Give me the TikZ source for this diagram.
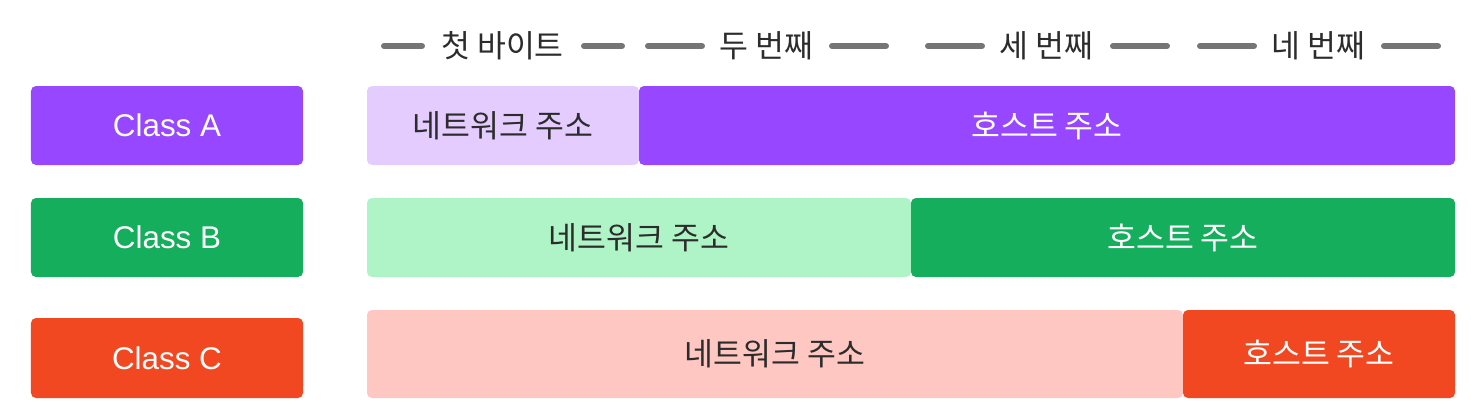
\documentclass[tikz,border=0pt]{standalone}
\usepackage{fontspec}
\setmainfont{Noto Sans CJK KR}
\newfontfamily\latinfont{Liberation Sans}
\definecolor{purpleD}{HTML}{9747FF}
\definecolor{purpleL}{HTML}{E4CCFF}
\definecolor{greenD}{HTML}{14AE5C}
\definecolor{greenL}{HTML}{AFF4C6}
\definecolor{redD}{HTML}{F24822}
\definecolor{redL}{HTML}{FFC7C2}
\definecolor{txt}{HTML}{2C2C2C}
\definecolor{rule}{HTML}{757575}
\tikzset{
  bar/.style={rectangle, rounded corners=5bp, inner sep=0pt, draw=none, font=\fontsize{31.5}{36}\selectfont},
  darkbar/.style={bar, text=white},
  lightbar/.style={bar, text=txt},
  classbox/.style={darkbar, font=\latinfont\fontsize{31.5}{36}\selectfont},
  hdr/.style={font=\fontsize{31.5}{36}\selectfont, text=txt, inner sep=0pt},
  hline/.style={draw=rule, line width=6bp, line cap=round},
}
\begin{document}
\begin{tikzpicture}[x=1bp,y=-1bp]
\useasboundingbox (0,0) rectangle (1471,412);
% class labels
\node[classbox, fill=purpleD, minimum width=272bp, minimum height=79bp] (ca) at (167,125.5) {Class A};
\node[classbox, fill=greenD, minimum width=272bp, minimum height=79bp] (cb) at (167,237.5) {Class B};
\node[classbox, fill=redD, minimum width=272bp, minimum height=80bp] (cc) at (167,358) {Class C};
% row A
\node[lightbar, fill=purpleL, minimum width=272bp, minimum height=79bp] (na) at (503,125.5) {네트워크 주소};
\node[darkbar, fill=purpleD, minimum width=816bp, minimum height=79bp] (ha) at (1047,125.5) {호스트 주소};
% row B
\node[lightbar, fill=greenL, minimum width=544bp, minimum height=79bp] (nb) at (639,237.5) {네트워크 주소};
\node[darkbar, fill=greenD, minimum width=544bp, minimum height=79bp] (hb) at (1183,237.5) {호스트 주소};
% row C
\node[lightbar, fill=redL, minimum width=816bp, minimum height=88bp] (nc) at (775,354) {네트워크 주소};
\node[darkbar, fill=redD, minimum width=272bp, minimum height=88bp] (hc) at (1319,354) {호스트 주소};
% header
\node[hdr] (t1) at (502.5,46) {첫 바이트};
\node[hdr] (t2) at (766.5,46) {두 번째};
\node[hdr] (t3) at (1046.5,46) {세 번째};
\node[hdr] (t4) at (1318.5,46) {네 번째};
\coordinate (a1) at (384,46); \coordinate (b1) at (422,46);
\coordinate (c1) at (584,46); \coordinate (d1) at (622,46);
\coordinate (a2) at (648,46); \coordinate (b2) at (702,46);
\coordinate (c2) at (832,46); \coordinate (d2) at (886,46);
\coordinate (a3) at (928,46); \coordinate (b3) at (982,46);
\coordinate (c3) at (1113,46); \coordinate (d3) at (1167,46);
\coordinate (a4) at (1200,46); \coordinate (b4) at (1254,46);
\coordinate (c4) at (1384,46); \coordinate (d4) at (1438,46);
\foreach \i in {1,2,3,4} {
  \draw[hline] (a\i) -- (b\i);
  \draw[hline] (c\i) -- (d\i);
}
\end{tikzpicture}
\end{document}
